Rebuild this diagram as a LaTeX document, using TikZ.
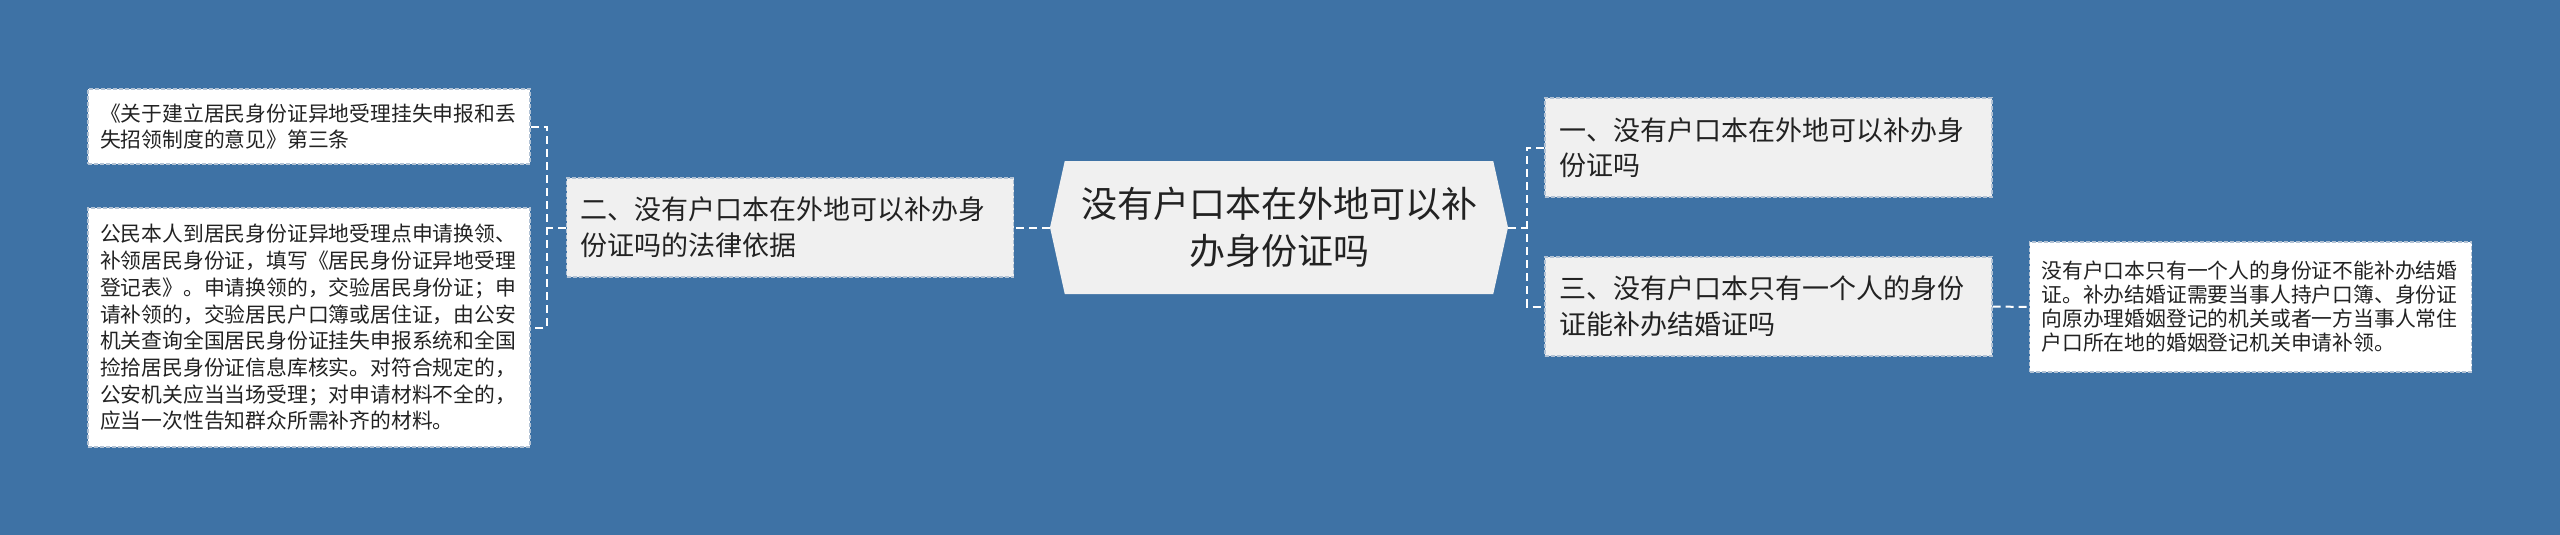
\documentclass[tikz,border=0pt]{standalone}
\usepackage{fontspec}
\setmainfont{Noto Sans CJK SC}
\usetikzlibrary{shapes.symbols}
\definecolor{bgblue}{RGB}{62,114,165}
\definecolor{boxfill}{RGB}{240,240,240}
\definecolor{boxline}{RGB}{178,194,212}
\definecolor{txt}{RGB}{34,34,34}
\begin{document}
\begin{tikzpicture}[x=1pt,y=-1pt,
  leafbox/.style={draw=boxline, fill=white, dash pattern=on 4pt off 2pt, line width=1.2pt,
    text=txt, align=left, text width=418pt, inner xsep=12pt, inner ysep=0pt,
    font=\fontsize{20.8pt}{26.7pt}\selectfont},
  midbox/.style={draw=boxline, fill=boxfill, dash pattern=on 4pt off 2pt, line width=1.2pt,
    text=txt, align=left, text width=419pt, inner xsep=14pt, inner ysep=0pt,
    minimum height=99pt, font=\fontsize{27pt}{35.6pt}\selectfont},
  rootbox/.style={signal, signal to=west and east, signal pointer angle=155,
    fill=boxfill, draw=none, text=txt, align=center, inner sep=0pt,
    minimum width=458pt, minimum height=133pt, font=\fontsize{36pt}{47pt}\selectfont},
  conn/.style={draw=white, line width=2pt, dash pattern=on 8pt off 5pt}]
\useasboundingbox (0,0) rectangle (2560,535);
\fill[bgblue] (0,0) rectangle (2560,535);

\node[rootbox] (root) at (1279,227.5) {没有户口本在外地可以补\\办身份证吗};

\node[midbox] (l2) at (790,227.5) {二、没有户口本在外地可以补办身\\份证吗的法律依据};
\node[midbox] (r1) at (1768.5,147.5) {一、没有户口本在外地可以补办身\\份证吗};
\node[midbox] (r3) at (1768.5,306.5) {三、没有户口本只有一个人的身份\\证能补办结婚证吗};

\node[leafbox, minimum height=75pt] (a1) at (309,126.5) {《关于建立居民身份证异地受理挂失申报和丢\\失招领制度的意见》第三条};
\node[leafbox, minimum height=239pt] (a2) at (309,327.5) {公民本人到居民身份证异地受理点申请换领、\\补领居民身份证，填写《居民身份证异地受理\\登记表》。申请换领的，交验居民身份证；申\\请补领的，交验居民户口簿或居住证，由公安\\机关查询全国居民身份证挂失申报系统和全国\\捡拾居民身份证信息库核实。对符合规定的，\\公安机关应当当场受理；对申请材料不全的，\\应当一次性告知群众所需补齐的材料。};
\node[leafbox, minimum height=130pt, font=\fontsize{20.8pt}{24pt}\selectfont] (b1) at (2250.5,307) {没有户口本只有一个人的身份证不能补办结婚\\证。补办结婚证需要当事人持户口簿、身份证\\向原办理婚姻登记的机关或者一方当事人常住\\户口所在地的婚姻登记机关申请补领。};

\coordinate (lb) at (547,227.5);
\coordinate (rb) at (1527,227.5);
\draw[conn] (root.west) -- (l2.east);
\draw[conn] (l2.west) -- (lb);
\draw[conn] (a1.east) -- (a1.east -| lb) -- (a2.east -| lb) -- (a2.east);
\draw[conn] (root.east) -- (rb);
\draw[conn] (r1.west) -- (r1.west -| rb) -- (r3.west -| rb) -- (r3.west);
\draw[conn] (r3.east) -- (b1.west);
\end{tikzpicture}
\end{document}
